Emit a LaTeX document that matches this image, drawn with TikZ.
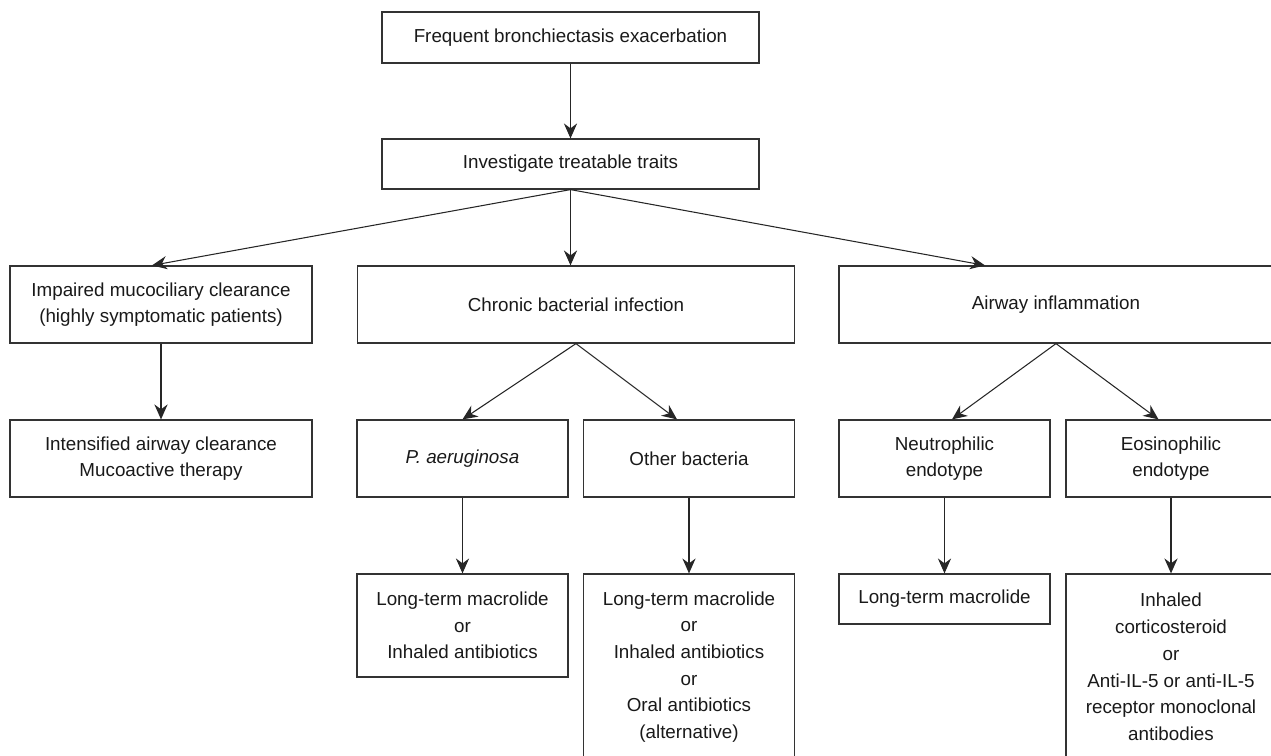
\documentclass[tikz,border=0pt]{standalone}
\usepackage{fontspec}
\setmainfont{Liberation Sans}
\usetikzlibrary{arrows.meta}

\begin{document}
\begin{tikzpicture}[x=0.02cm, y=-0.02cm,
        box/.style={draw=black!80, line width=0.7pt, align=center, inner sep=2pt,
            font=\fontsize{10.7}{15.2}\selectfont, text=black!90},
        arr/.style={draw=black!85, line width=0.6pt, -{Stealth[length=8.5pt, width=7.5pt, inset=2.8pt]}}]
        \useasboundingbox (0,0) rectangle (1271,756);

        \node[box, minimum width=7.54cm, minimum height=1.02cm] (freq) at (570.5, 37.5) {Frequent bronchiectasis exacerbation};
        \node[box, minimum width=7.54cm, minimum height=1.0cm] (inv) at (570.5, 164) {Investigate treatable traits};

        \node[box, minimum width=6.04cm, minimum height=1.54cm] (imp) at (161, 304.5) {Impaired mucociliary clearance\\(highly symptomatic patients)};
        \node[box, minimum width=8.75cm, minimum height=1.54cm] (chr) at (576, 304.5) {Chronic bacterial infection};
        \node[box, minimum width=8.68cm, minimum height=1.54cm] (air) at (1056, 304.5) {Airway inflammation};

        \node[box, minimum width=6.04cm, minimum height=1.54cm] (int) at (161, 458.5) {Intensified airway clearance\\Mucoactive therapy};
        \node[box, minimum width=4.22cm, minimum height=1.54cm] (pae) at (462.5, 458.5) {\textit{P. aeruginosa}};
        \node[box, minimum width=4.21cm, minimum height=1.54cm] (oth) at (689, 458.5) {Other bacteria};
        \node[box, minimum width=4.22cm, minimum height=1.54cm] (neu) at (944.5, 458.5) {Neutrophilic\\endotype};
        \node[box, minimum width=4.2cm, minimum height=1.54cm] (eos) at (1171, 458.5) {Eosinophilic\\endotype};

        \node[box, minimum width=4.22cm, minimum height=2.06cm] (paetx) at (462.5, 625.5) {Long-term macrolide\\or\\Inhaled antibiotics};
        \node[box, minimum width=4.21cm, minimum height=3.72cm] (othtx) at (689, 667) {Long-term macrolide\\or\\Inhaled antibiotics\\or\\Oral antibiotics\\(alternative)};
        \node[box, minimum width=4.22cm, minimum height=1.0cm] (neutx) at (944.5, 599) {Long-term macrolide};
        \node[box, minimum width=4.2cm, minimum height=3.72cm] (eostx) at (1171, 667) {Inhaled\\corticosteroid\\or\\Anti-IL-5 or anti-IL-5\\receptor monoclonal\\antibodies};

        \draw[arr] (freq) -- (inv);
        \draw[arr] (inv.south) -- ([xshift=-0.18cm]imp.north);
        \draw[arr] (inv.south) -- (inv.south |- chr.north);
        \draw[arr] (inv.south) -- ([xshift=-1.42cm]air.north);

        \draw[arr] (imp) -- (int);
        \draw[arr] (chr.south) -- (pae.north);
        \draw[arr] (chr.south) -- ([xshift=-0.24cm]oth.north);
        \draw[arr] (air.south) -- ([xshift=0.15cm]neu.north);
        \draw[arr] (air.south) -- ([xshift=-0.25cm]eos.north);

        \draw[arr] (pae) -- (paetx);
        \draw[arr] (oth) -- (othtx);
        \draw[arr] (neu) -- (neutx);
        \draw[arr] (eos) -- (eostx);
    \end{tikzpicture}
\end{document}
